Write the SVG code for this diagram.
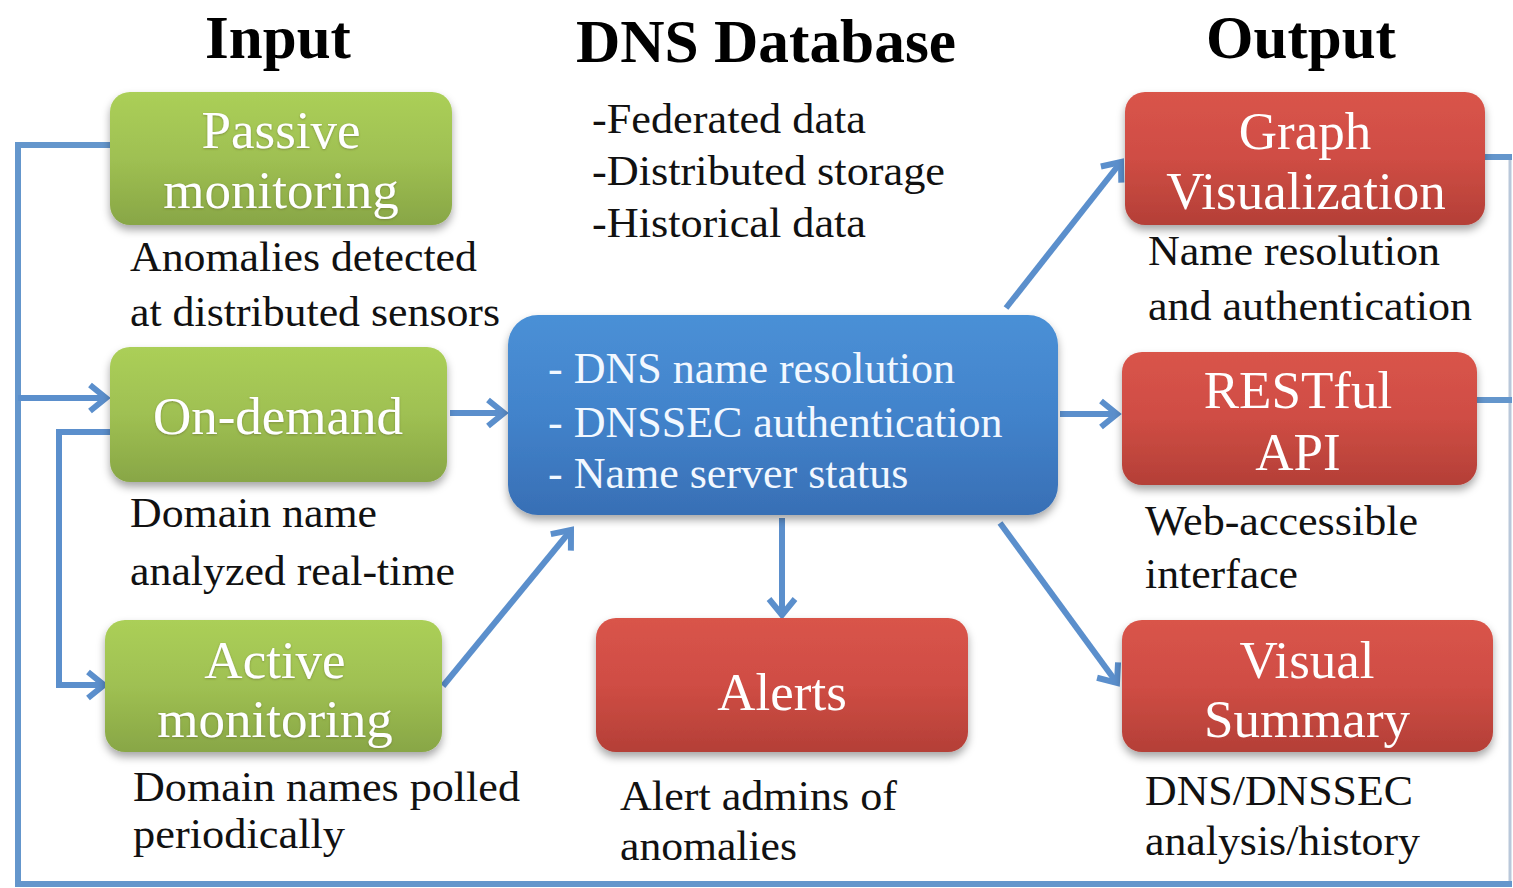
<svg xmlns="http://www.w3.org/2000/svg" width="1513" height="888" viewBox="0 0 1513 888">
<defs>
<linearGradient id="gGreen" x1="0" y1="0" x2="0" y2="1"><stop offset="0" stop-color="#abcf58"/><stop offset="0.5" stop-color="#9fc052"/><stop offset="1" stop-color="#88a646"/></linearGradient>
<linearGradient id="gRed" x1="0" y1="0" x2="0" y2="1"><stop offset="0" stop-color="#d9544a"/><stop offset="0.5" stop-color="#cf4d44"/><stop offset="1" stop-color="#b43f37"/></linearGradient>
<linearGradient id="gBlue" x1="0" y1="0" x2="0" y2="1"><stop offset="0" stop-color="#4a90d6"/><stop offset="0.5" stop-color="#4283cb"/><stop offset="1" stop-color="#386fb5"/></linearGradient>
<filter id="shadow" x="-10%" y="-10%" width="120%" height="130%"><feDropShadow dx="0" dy="5" stdDeviation="4" flood-color="#000" flood-opacity="0.35"/></filter>
<filter id="glow" x="-5%" y="-10%" width="110%" height="130%"><feDropShadow dx="0" dy="1" stdDeviation="1.2" flood-color="#6a7030" flood-opacity="0.6"/></filter>
<marker id="arr" markerUnits="userSpaceOnUse" markerWidth="34" markerHeight="34" refX="22" refY="17" orient="auto" viewBox="0 0 34 34"><path d="M6,4 L22,17 L6,30" fill="none" stroke="#5b8fcc" stroke-width="6" stroke-linecap="butt"/></marker>
</defs>
<style>
.title{font-family:"Liberation Serif",serif;font-weight:bold;font-size:61px;fill:#000;text-anchor:middle}
.box{font-family:"Liberation Serif",serif;font-size:53px;fill:#fff;text-anchor:middle}
.bul{font-family:"Liberation Serif",serif;font-size:44px;fill:#f2f8ff}
.desc{font-family:"Liberation Serif",serif;font-size:43px;fill:#111}
.con{fill:none;stroke:#5b8fcc;stroke-width:6}
.frame{fill:none;stroke:#6496cc;stroke-width:6}
.edge{fill:none;stroke:#b9c8da;stroke-width:3}
</style>
<rect width="1513" height="888" fill="#fff"/>

<g id="titles">
<text class="title" x="766" y="62" textLength="380" lengthAdjust="spacingAndGlyphs">DNS Database</text>
<text class="title" x="278" y="58">Input</text>
<text class="title" x="1301" y="58">Output</text>
</g>

<g id="connectors">
<line class="edge" x1="1510" y1="157" x2="1510" y2="884"/>
<polyline class="frame" points="1485,157 1512,157"/>
<polyline class="frame" points="1512,884 18,884 18,145 112,145"/>
<line class="frame" x1="1477" y1="400" x2="1512" y2="400"/>
<line class="con" x1="18" y1="398" x2="106" y2="398" marker-end="url(#arr)"/>
<polyline class="con" points="110,432 59,432 59,685 104,685" marker-end="url(#arr)"/>
<line class="con" x1="450" y1="413" x2="504" y2="413" marker-end="url(#arr)"/>
<line class="con" x1="443" y1="686" x2="571" y2="530" marker-end="url(#arr)"/>
<line class="con" x1="1006" y1="308" x2="1121" y2="162" marker-end="url(#arr)"/>
<line class="con" x1="1060" y1="414" x2="1117" y2="414" marker-end="url(#arr)"/>
<line class="con" x1="1000" y1="523" x2="1117" y2="683" marker-end="url(#arr)"/>
<line class="con" x1="782" y1="518" x2="782" y2="615" marker-end="url(#arr)"/>
</g>

<g id="passive">
<rect x="110" y="92" width="342" height="133" rx="20" fill="url(#gGreen)" filter="url(#shadow)"/>
<text class="box" x="281" y="148" filter="url(#glow)">Passive</text>
<text class="box" x="281" y="208" filter="url(#glow)">monitoring</text>
<text class="desc" x="130" y="271" textLength="347" lengthAdjust="spacingAndGlyphs">Anomalies detected</text>
<text class="desc" x="130" y="326" textLength="370" lengthAdjust="spacingAndGlyphs">at distributed sensors</text>
</g>

<g id="ondemand">
<rect x="110" y="347" width="337" height="135" rx="20" fill="url(#gGreen)" filter="url(#shadow)"/>
<text class="box" x="278" y="434" filter="url(#glow)">On-demand</text>
<text class="desc" x="130" y="527" textLength="247" lengthAdjust="spacingAndGlyphs">Domain name</text>
<text class="desc" x="130" y="585" textLength="325" lengthAdjust="spacingAndGlyphs">analyzed real-time</text>
</g>

<g id="active">
<rect x="105" y="620" width="337" height="132" rx="20" fill="url(#gGreen)" filter="url(#shadow)"/>
<text class="box" x="275" y="678" filter="url(#glow)">Active</text>
<text class="box" x="275" y="737" filter="url(#glow)">monitoring</text>
<text class="desc" x="133" y="801" textLength="387" lengthAdjust="spacingAndGlyphs">Domain names polled</text>
<text class="desc" x="133" y="848" textLength="212" lengthAdjust="spacingAndGlyphs">periodically</text>
</g>

<g id="dnsdb">
<text class="desc" x="592" y="133" textLength="274" lengthAdjust="spacingAndGlyphs">-Federated data</text>
<text class="desc" x="592" y="185" textLength="353" lengthAdjust="spacingAndGlyphs">-Distributed storage</text>
<text class="desc" x="592" y="237" textLength="274" lengthAdjust="spacingAndGlyphs">-Historical data</text>
<rect x="508" y="315" width="550" height="200" rx="30" fill="url(#gBlue)" filter="url(#shadow)"/>
<text class="bul" x="548" y="383">- DNS name resolution</text>
<text class="bul" x="548" y="437">- DNSSEC authentication</text>
<text class="bul" x="548" y="488">- Name server status</text>
</g>

<g id="graph">
<rect x="1125" y="92" width="360" height="133" rx="20" fill="url(#gRed)" filter="url(#shadow)"/>
<text class="box" x="1305" y="149">Graph</text>
<text class="box" x="1306" y="209">Visualization</text>
<text class="desc" x="1148" y="265" textLength="292" lengthAdjust="spacingAndGlyphs">Name resolution</text>
<text class="desc" x="1148" y="320" textLength="324" lengthAdjust="spacingAndGlyphs">and authentication</text>
</g>

<g id="restful">
<rect x="1122" y="352" width="355" height="133" rx="20" fill="url(#gRed)" filter="url(#shadow)"/>
<text class="box" x="1298" y="408">RESTful</text>
<text class="box" x="1298" y="470">API</text>
<text class="desc" x="1145" y="535" textLength="273" lengthAdjust="spacingAndGlyphs">Web-accessible</text>
<text class="desc" x="1145" y="588" textLength="153" lengthAdjust="spacingAndGlyphs">interface</text>
</g>

<g id="visual">
<rect x="1122" y="620" width="371" height="132" rx="20" fill="url(#gRed)" filter="url(#shadow)"/>
<text class="box" x="1307" y="678">Visual</text>
<text class="box" x="1307" y="737">Summary</text>
<text class="desc" x="1145" y="805" textLength="268" lengthAdjust="spacingAndGlyphs">DNS/DNSSEC</text>
<text class="desc" x="1145" y="855" textLength="275" lengthAdjust="spacingAndGlyphs">analysis/history</text>
</g>

<g id="alerts">
<rect x="596" y="618" width="372" height="134" rx="20" fill="url(#gRed)" filter="url(#shadow)"/>
<text class="box" x="782" y="710">Alerts</text>
<text class="desc" x="620" y="810" textLength="277" lengthAdjust="spacingAndGlyphs">Alert admins of</text>
<text class="desc" x="620" y="860" textLength="177" lengthAdjust="spacingAndGlyphs">anomalies</text>
</g>
</svg>
